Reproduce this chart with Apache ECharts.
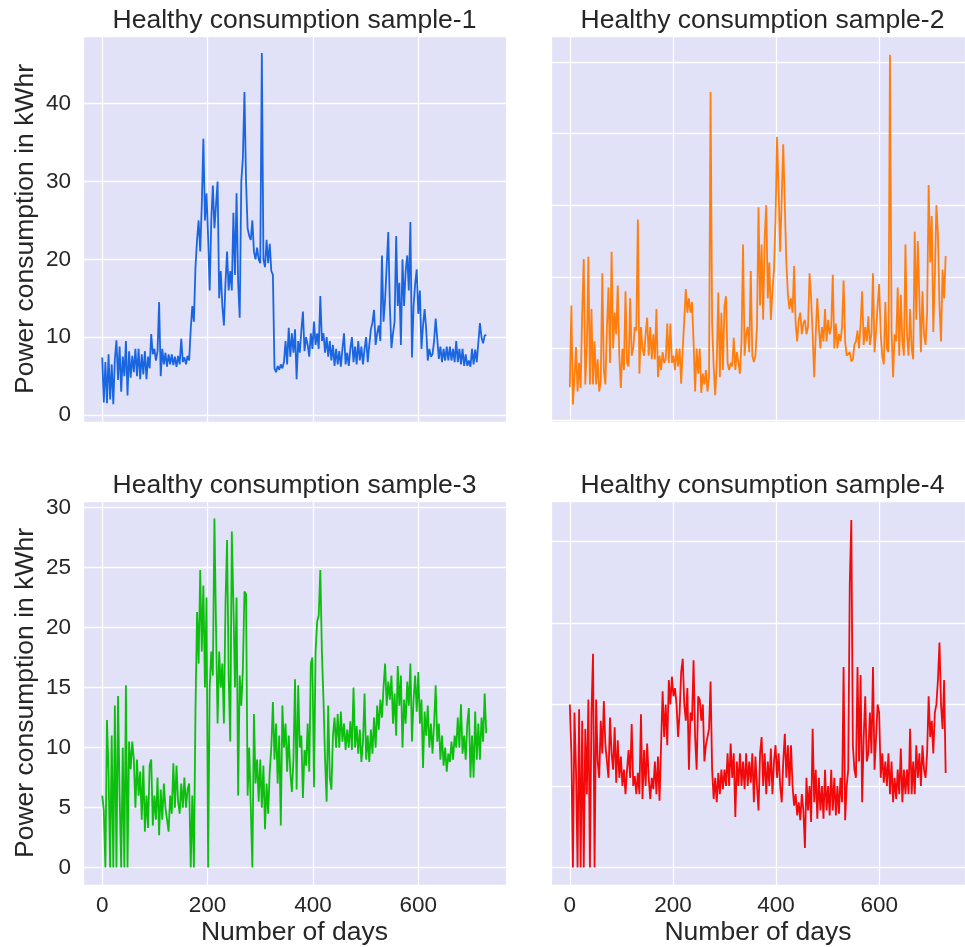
<!DOCTYPE html>
<html>
<head>
<meta charset="utf-8">
<script src="https://cdn.jsdelivr.net/npm/echarts@6/dist/echarts.min.js"></script>
<style>
  html, body { margin: 0; padding: 0; background: #ffffff; }
  #chart { width: 965px; height: 947px; }
</style>
</head>
<body>
<div id="chart"></div>
<script>
// Daily readings, sampled every DAY_STEP days starting at day 0.
const DAY_STEP = 3;

const sample1 = [
  7.4, 1.6, 6.8, 1.5, 7.8, 2.0, 6.5, 1.4, 7.2, 9.6,
  4.5, 8.8, 3.0, 7.5, 5.0, 9.5, 2.5, 8.2, 4.8, 7.6,
  5.5, 8.5, 5.0, 8.5, 4.6, 7.8, 5.2, 8.2, 4.6, 7.5,
  6.0, 10.4, 7.8, 8.5, 7.0, 8.2, 14.5, 5.0, 8.5, 6.5,
  8.0, 6.2, 7.8, 6.5, 7.8, 6.4, 7.5, 6.2, 7.6, 6.5,
  9.8, 6.8, 7.4, 6.5, 7.6, 7.0, 11.0, 14.0, 12.0, 19.0,
  22.5, 25.0, 21.0, 27.0, 35.5, 25.0, 28.5, 22.8, 16.0, 25.0,
  29.5, 24.0, 27.0, 30.0, 15.0, 18.5, 14.0, 11.5, 17.0, 21.0,
  16.0, 18.5, 16.0, 26.0, 18.0, 28.5, 17.0, 12.5, 30.0, 33.0,
  41.5, 30.0, 24.0, 23.0, 22.5, 25.0, 21.0, 20.0, 21.5, 20.0,
  19.5, 46.5, 20.0, 19.0, 22.5, 19.5, 22.0, 18.5, 18.0, 6.0,
  5.5, 6.3, 5.8, 6.5, 6.0, 6.8, 9.5, 6.5, 11.2, 7.5,
  10.5, 8.0, 11.0, 4.6, 9.5, 8.0, 10.8, 13.3, 8.2, 10.0,
  9.0, 7.5, 10.5, 8.5, 12.0, 9.0, 10.5, 8.5, 15.3, 9.5,
  10.5, 8.0, 10.0, 7.5, 9.5, 7.0, 9.0, 6.3, 8.5, 6.5,
  8.2, 6.2, 8.5, 10.5, 6.5, 8.0, 6.3, 8.5, 10.0, 6.8,
  8.8, 6.5, 9.5, 7.0, 8.8, 6.5, 8.5, 10.0, 6.8, 9.0,
  11.0, 11.9, 13.5, 9.0, 10.5, 11.5, 9.5, 20.5, 12.0, 14.8,
  15.0, 23.5, 14.0, 8.6, 10.5, 12.0, 23.0, 14.0, 17.0, 9.0,
  20.0, 14.0, 18.5, 20.5, 16.0, 24.8, 7.4, 14.0, 16.8, 18.7,
  13.0, 16.0, 8.5, 11.5, 13.6, 11.0, 7.0, 8.5, 7.5, 7.8,
  9.5, 12.4, 12.5, 7.2, 8.8, 6.8, 8.5, 7.0, 8.8, 7.0,
  8.8, 7.0, 8.5, 6.8, 9.5, 6.8, 8.5, 6.5, 8.5, 6.3,
  7.8, 6.3, 7.0, 6.2, 8.5, 6.5, 8.4, 6.8, 7.0, 11.8,
  10.0, 9.2, 10.2, 10.3
];

const sample2 = [
  4.6, 16.0, 2.2, 6.0, 10.2, 4.0, 8.0, 4.5, 15.0, 22.5,
  5.0, 10.0, 22.8, 5.0, 15.5, 5.0, 11.0, 5.0, 8.5, 4.0,
  5.5, 20.5, 7.0, 5.0, 13.0, 18.5, 8.0, 23.5, 10.0, 15.0,
  12.0, 18.8, 9.0, 4.5, 10.0, 7.0, 18.0, 8.0, 7.5, 17.0,
  9.0, 10.0, 13.0, 12.5, 28.0, 6.5, 13.0, 10.0, 9.0, 12.0,
  14.3, 9.0, 13.0, 8.5, 12.0, 8.5, 15.5, 6.0, 9.0, 7.0,
  9.5, 8.0, 8.5, 13.5, 8.0, 13.5, 8.0, 9.0, 7.0, 10.0,
  7.5, 10.0, 5.1, 10.0, 14.0, 18.3, 15.0, 17.0, 15.0, 16.5,
  11.0, 4.0, 10.0, 6.5, 10.0, 3.8, 6.5, 5.0, 7.0, 4.0,
  6.0, 45.8, 13.5, 7.5, 3.5, 8.0, 17.8, 6.0, 15.0, 7.0,
  16.0, 17.3, 8.0, 7.0, 8.0, 7.5, 11.5, 7.0, 9.5, 8.0,
  6.5, 11.0, 24.5, 9.0, 12.0, 13.0, 9.5, 20.8, 9.0, 8.1,
  9.0, 13.0, 29.7, 16.0, 24.5, 14.0, 25.5, 30.0, 17.0, 22.0,
  14.0, 18.0, 21.0, 28.0, 39.5, 32.0, 23.5, 31.0, 38.5, 30.0,
  22.0, 17.5, 15.5, 17.0, 15.0, 21.5, 13.5, 11.0, 14.0, 15.0,
  12.0, 13.5, 14.0, 12.0, 13.0, 20.5, 17.0, 12.0, 6.0, 12.0,
  17.0, 13.0, 10.0, 13.0, 11.0, 15.5, 11.0, 14.0, 12.0, 13.0,
  20.3, 10.0, 13.5, 10.0, 12.0, 11.0, 13.0, 19.5, 11.0, 9.0,
  8.8, 9.5, 8.2, 8.5, 10.5, 11.0, 12.5, 10.0, 13.5, 18.0,
  10.5, 13.0, 11.0, 14.5, 10.5, 12.0, 20.5, 9.5, 12.5, 16.0,
  19.0, 12.0, 9.0, 7.8, 16.5, 10.0, 9.5, 51.0, 12.5, 6.0,
  12.0, 11.0, 18.5, 9.0, 17.5, 11.0, 9.0, 24.5, 12.0, 9.0,
  15.5, 10.0, 8.5, 26.3, 14.0, 25.0, 17.0, 9.5, 18.0, 12.0,
  10.5, 15.0, 32.8, 22.0, 28.5, 12.3, 20.0, 30.0, 26.0, 16.0,
  11.0, 21.0, 17.0, 22.9
];

const sample3 = [
  6.0, 4.8, 0, 12.3, 8.0, 0, 11.0, 0, 13.5, 0,
  14.3, 6.0, 0, 10.0, 0, 15.2, 0, 10.5, 8.2, 10.5,
  9.0, 5.0, 9.0, 6.0, 8.0, 4.0, 8.5, 3.0, 6.0, 3.3,
  8.5, 9.0, 3.5, 6.0, 4.0, 7.5, 2.7, 6.5, 4.0, 7.0,
  5.0, 4.0, 3.0, 6.0, 4.5, 8.7, 5.0, 8.5, 5.5, 4.5,
  7.0, 5.0, 7.5, 5.0, 6.5, 7.0, 0, 6.0, 0, 13.0,
  21.3, 17.0, 24.8, 18.0, 23.5, 15.0, 22.5, 0, 15.0, 18.0,
  16.0, 29.1, 20.0, 12.0, 18.0, 15.0, 17.0, 12.0, 22.0, 27.3,
  16.0, 10.5, 28.0, 22.0, 15.0, 22.5, 6.0, 16.0, 13.5, 16.5,
  23.0, 22.8, 6.0, 10.0, 5.0, 0, 12.8, 7.0, 9.0, 5.5,
  9.0, 5.0, 8.5, 3.2, 7.0, 4.5, 8.0, 10.0, 13.8, 9.0,
  12.0, 7.0, 11.0, 3.5, 13.5, 10.0, 12.0, 8.0, 11.0, 8.0,
  6.3, 9.0, 15.7, 6.5, 15.2, 10.0, 11.0, 5.8, 9.8, 8.5,
  12.0, 8.0, 17.0, 17.5, 6.7, 18.0, 20.5, 21.0, 24.8, 18.0,
  14.0, 9.0, 5.5, 13.5, 7.5, 6.5, 11.0, 12.5, 10.0, 12.8,
  10.0, 13.0, 10.5, 12.0, 9.8, 11.5, 10.0, 12.2, 9.8, 15.0,
  10.0, 11.8, 9.5, 11.5, 8.8, 10.5, 14.5, 9.0, 11.0, 8.8,
  11.5, 9.5, 12.5, 10.0, 13.5, 11.5, 14.0, 12.5, 15.0, 17.0,
  13.5, 15.5, 14.0, 16.0, 12.0, 14.5, 11.0, 16.8, 13.5, 16.0,
  10.0, 14.0, 12.0, 15.5, 13.5, 17.0, 10.5, 14.0, 16.0, 13.0,
  16.3, 12.0, 14.0, 8.3, 13.0, 11.0, 13.5, 10.0, 12.0, 9.5,
  12.0, 15.2, 10.5, 12.0, 9.0, 11.0, 8.5, 10.0, 8.0, 9.5,
  8.8, 10.5, 9.0, 11.0, 10.0, 12.5, 10.0, 13.6, 9.5, 11.0,
  9.0, 12.0, 13.3, 7.5, 11.0, 7.5, 13.0, 9.0, 12.0, 9.0,
  12.5, 10.5, 14.5, 11.2
];

const sample4 = [
  10.0, 7.0, 0, 9.5, 6.0, 0, 9.7, 0, 9.0, 0,
  8.5, 4.5, 10.3, 0, 9.5, 13.1, 0, 10.3, 6.5, 5.5,
  9.0, 7.0, 10.2, 7.5, 6.5, 5.5, 9.2, 7.0, 6.0, 8.6,
  5.2, 7.8, 5.5, 6.8, 5.0, 6.0, 4.5, 6.0, 7.2, 5.5,
  8.8, 5.0, 5.6, 4.5, 5.8, 4.5, 9.4, 4.2, 7.2, 5.0,
  7.6, 5.5, 4.2, 5.5, 4.8, 6.5, 4.5, 6.8, 4.1, 7.5,
  10.8, 8.0, 10.0, 7.5, 11.5, 10.0, 11.7, 10.5, 11.0, 10.0,
  8.0, 9.5, 12.0, 12.8, 10.0, 9.0, 11.0, 6.0, 9.5, 9.0,
  12.7, 8.0, 6.0, 10.5, 10.3, 9.0, 10.0, 6.5, 7.5, 8.0,
  8.5, 11.4, 6.0, 4.2, 5.5, 4.0, 5.8, 4.5, 6.0, 4.8,
  6.0, 5.0, 7.0, 5.0, 7.6, 5.5, 7.0, 3.1, 6.5, 5.0,
  7.0, 5.0, 6.5, 4.8, 7.0, 5.0, 6.5, 5.2, 7.0, 4.0,
  6.8, 5.0, 3.5, 7.0, 8.0, 5.0, 7.0, 4.5, 6.5, 5.0,
  7.3, 4.5, 6.5, 7.5, 5.5, 7.0, 5.0, 4.0, 6.5, 8.2,
  5.5, 7.5, 5.0, 7.5, 5.0, 3.8, 4.5, 3.2, 4.0, 2.9,
  4.5, 3.5, 1.2, 5.5, 3.5, 5.0, 2.8, 8.5, 4.0, 6.0,
  3.0, 5.5, 3.5, 5.0, 3.0, 6.0, 3.5, 5.0, 3.2, 6.0,
  3.5, 5.5, 3.2, 5.0, 3.3, 5.5, 4.0, 12.3, 2.9, 5.0,
  6.0, 17.4, 21.3, 7.5, 6.0, 5.5, 12.3, 6.5, 11.8, 4.0,
  8.0, 10.5, 6.5, 7.0, 9.5, 7.0, 12.3, 6.0, 8.0, 10.0,
  9.5, 5.5, 7.0, 5.2, 6.5, 5.0, 7.0, 4.5, 6.5, 4.0,
  5.5, 4.2, 6.0, 4.5, 7.3, 4.0, 6.0, 4.5, 6.0, 4.5,
  8.5, 4.5, 6.5, 4.5, 7.5, 5.5, 7.0, 5.0, 7.5, 6.0,
  5.5, 7.0, 10.5, 8.0, 9.0, 7.0, 9.5, 10.0, 11.5, 13.8,
  10.0, 8.5, 11.5, 5.8
];

const titles = [
  'Healthy consumption sample-1',
  'Healthy consumption sample-2',
  'Healthy consumption sample-3',
  'Healthy consumption sample-4'
];
const yAxisName = 'Power consumption in kWhr';
const xAxisName = 'Number of days';

const FONT = '"Liberation Sans", Arial, Helvetica, sans-serif';
const INK = '#262626';
const PLOT_BG = '#e1e1f7';

// Panel layout: two columns, two rows; the right column runs past the page edge.
const panels = [
  { values: sample1, color: '#1a66e0', box: { left: 83,  top: 36,  width: 423, height: 386 }, yRange: [-0.9, 48.7],  ySplit: 5, yLabels: true,  xLabels: false },
  { values: sample2, color: '#ff7f0e', box: { left: 551, top: 36,  width: 423, height: 386 }, yRange: [-0.25, 53.6], ySplit: 5, yLabels: false, xLabels: false },
  { values: sample3, color: '#0cbf0c', box: { left: 83,  top: 501, width: 423, height: 385 }, yRange: [-1.45, 30.55], ySplit: 6, yLabels: true,  xLabels: true },
  { values: sample4, color: '#f20a0a', box: { left: 551, top: 501, width: 423, height: 385 }, yRange: [-1.07, 22.47], ySplit: 5, yLabels: false, xLabels: true }
];

const toPoints = vals => vals.map((v, i) => [i * DAY_STEP, v]);

const option = {
  animation: false,
  backgroundColor: '#ffffff',
  textStyle: { fontFamily: FONT, color: INK },
  title: panels.map((p, i) => ({
    text: titles[i],
    left: p.box.left + p.box.width / 2,
    top: p.box.top - 29,
    textAlign: 'center',
    padding: 0,
    textStyle: { fontFamily: FONT, fontSize: 26.5, fontWeight: 'normal', color: INK }
  })),
  grid: panels.map(p => Object.assign({
    show: true,
    backgroundColor: PLOT_BG,
    borderWidth: 0,
    containLabel: false
  }, p.box)),
  xAxis: panels.map((p, i) => ({
    type: 'value',
    gridIndex: i,
    min: -36.5,
    max: 766.5,
    splitNumber: 4,
    axisLine: { show: false },
    axisTick: { show: false },
    splitLine: { show: true, lineStyle: { color: '#ffffff', width: 1.3 } },
    axisLabel: {
      show: p.xLabels,
      showMinLabel: false,
      showMaxLabel: false,
      margin: 9,
      fontFamily: FONT,
      fontSize: 22.5,
      color: INK
    },
    name: p.xLabels ? xAxisName : '',
    nameLocation: 'middle',
    nameGap: 34,
    nameTextStyle: { fontFamily: FONT, fontSize: 26.5, color: INK }
  })),
  yAxis: panels.map((p, i) => ({
    type: 'value',
    gridIndex: i,
    min: p.yRange[0],
    max: p.yRange[1],
    splitNumber: p.ySplit,
    axisLine: { show: false },
    axisTick: { show: false },
    splitLine: { show: true, lineStyle: { color: '#ffffff', width: 1.3 } },
    axisLabel: {
      show: p.yLabels,
      showMinLabel: false,
      showMaxLabel: false,
      margin: 12,
      fontFamily: FONT,
      fontSize: 22.5,
      color: INK
    },
    name: p.yLabels ? yAxisName : '',
    nameLocation: 'middle',
    nameRotate: 90,
    nameGap: 44,
    nameTextStyle: { fontFamily: FONT, fontSize: 26.5, color: INK }
  })),
  series: panels.map((p, i) => ({
    type: 'line',
    xAxisIndex: i,
    yAxisIndex: i,
    data: toPoints(p.values),
    showSymbol: false,
    symbol: 'none',
    sampling: null,
    lineStyle: { color: p.color, width: 1.8 },
    itemStyle: { color: p.color },
    emphasis: { disabled: true }
  }))
};

const chart = echarts.init(document.getElementById('chart'), null, { renderer: 'canvas' });
chart.setOption(option);
</script>
</body>
</html>
